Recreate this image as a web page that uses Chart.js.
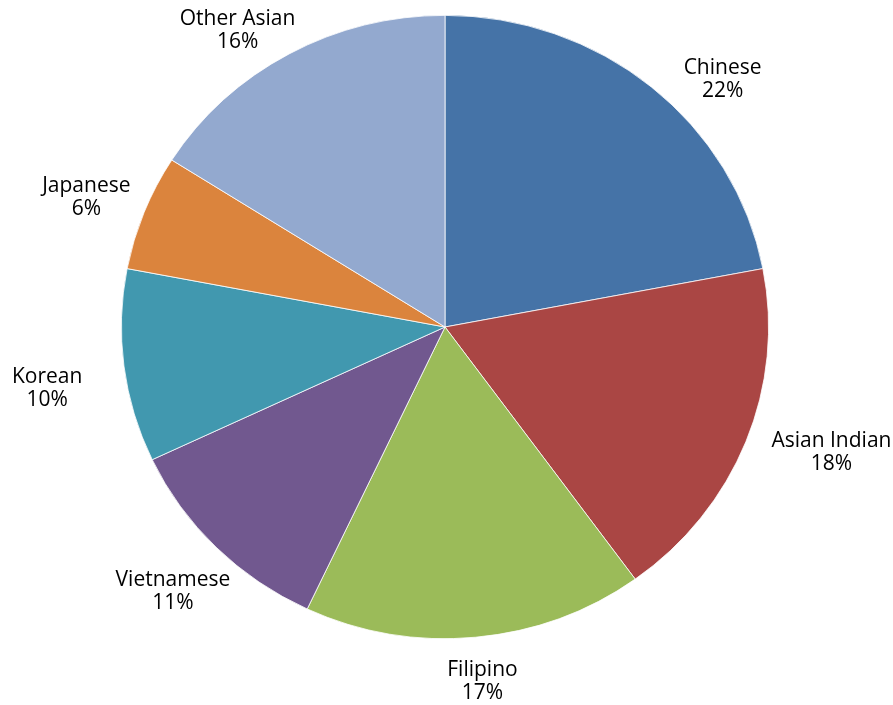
<!DOCTYPE html>
<html>
<head>
<meta charset="utf-8">
<script src="https://cdn.jsdelivr.net/npm/chart.js"></script>
<style>
  html, body { margin: 0; padding: 0; background: #fff; }
  #wrap { width: 893px; height: 705px; }
</style>
</head>
<body>
<div id="wrap"><canvas id="grafico" width="893" height="705"></canvas></div>
<script>
// Asian population by group, percent of total
const grupos = ['Chinese', 'Asian Indian', 'Filipino', 'Vietnamese', 'Korean', 'Japanese', 'Other Asian'];
const porcentajes = [22, 18, 17, 11, 10, 6, 16];
const colores = ['#4573a7', '#aa4644', '#9bbb59', '#71588f', '#4198af', '#db843d', '#93a9cf'];
// small hand nudges (px) so labels sit where the spreadsheet put them
const ajustes = [[35, 24], [13, -4], [2, 3], [10, 15], [-24, 17], [0, 0], [-15, 13]];

// the pie is drawn a little flatter vertically
const aplanado = 0.963;
const fuente = '21px "Open Sans", sans-serif';
const interlinea = 23;
const separacion = 18;

const pieAplanado = {
  id: 'pieAplanado',
  beforeDatasetsDraw(chart) {
    const arc = chart.getDatasetMeta(0).data[0];
    const ctx = chart.ctx;
    ctx.save();
    ctx.translate(0, arc.y);
    ctx.scale(1, aplanado);
    ctx.translate(0, -arc.y);
  },
  afterDatasetsDraw(chart) {
    chart.ctx.restore();
  }
};

// name + percent outside each slice
const etiquetas = {
  id: 'etiquetas',
  afterDraw(chart) {
    const ctx = chart.ctx;
    const meta = chart.getDatasetMeta(0);
    ctx.save();
    ctx.font = fuente;
    ctx.fillStyle = '#000';
    ctx.textAlign = 'center';
    ctx.textBaseline = 'middle';
    meta.data.forEach((arc, i) => {
      const medio = (arc.startAngle + arc.endAngle) / 2;
      const dx = Math.cos(medio);
      const dy = Math.sin(medio);
      const rx = arc.outerRadius;
      const ry = arc.outerRadius * aplanado;
      const texto = porcentajes[i] + '%';
      const w = Math.max(ctx.measureText(grupos[i]).width, ctx.measureText(texto).width);
      const h = interlinea * 2;
      const cx = arc.x + dx * (rx + separacion) + dx * w / 2 + ajustes[i][0];
      const cy = arc.y + dy * (ry + separacion) + dy * h / 2 + ajustes[i][1];
      ctx.fillText(grupos[i], cx, cy - interlinea / 2);
      ctx.fillText(texto, cx, cy + interlinea / 2);
    });
    ctx.restore();
  }
};

new Chart(document.getElementById('grafico'), {
  type: 'pie',
  data: {
    labels: grupos,
    datasets: [{
      data: porcentajes,
      backgroundColor: colores,
      borderColor: '#ffffff',
      borderWidth: 0.8
    }]
  },
  options: {
    responsive: false,
    animation: false,
    layout: { padding: { top: 3, bottom: 54, left: 0, right: 3 } },
    plugins: {
      legend: { display: false },
      tooltip: { enabled: false }
    }
  },
  plugins: [pieAplanado, etiquetas]
});
</script>
</body>
</html>
